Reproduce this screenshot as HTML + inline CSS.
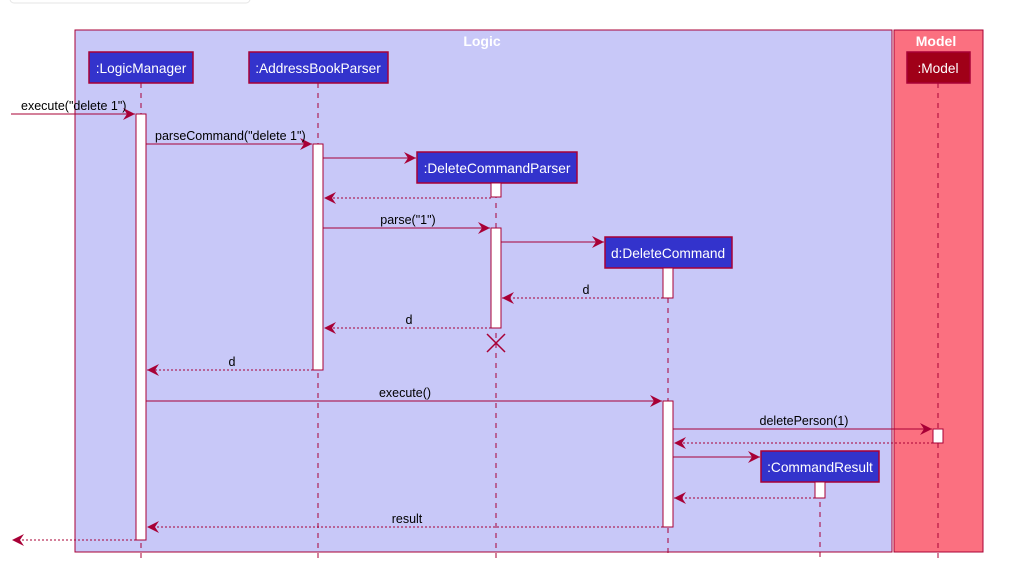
<!DOCTYPE html>
<html><head><meta charset="utf-8"><style>
html,body{margin:0;padding:0;background:#fff;}
svg{display:block;font-family:"Liberation Sans",sans-serif;}
</style></head><body>
<svg width="1021" height="579" viewBox="0 0 1021 579" xmlns="http://www.w3.org/2000/svg">
<defs>
<marker id="a" markerWidth="13" markerHeight="12" refX="12" refY="6" orient="auto" markerUnits="userSpaceOnUse">
<path d="M0,0 L12,6 L0,12 L4,6 Z" fill="#a80036"/>
</marker>
</defs>
<rect x="10" y="-6" width="240" height="9" rx="4" fill="#fff" stroke="#e6e6e6"/>
<rect x="75" y="30" width="817" height="522" fill="#c8c8f8" stroke="#a80036"/>
<rect x="894" y="30" width="89" height="522" fill="#fb7080" stroke="#a80036"/>
<text x="482" y="46" fill="#fff" font-weight="bold" font-size="14" text-anchor="middle">Logic</text>
<text x="936" y="46" fill="#fff" font-weight="bold" font-size="14" text-anchor="middle">Model</text>
<g stroke="#a80036" stroke-dasharray="5,5" stroke-width="1">
<line x1="141" y1="83" x2="141" y2="558"/>
<line x1="318" y1="83" x2="318" y2="558"/>
<line x1="496" y1="183" x2="496" y2="558"/>
<line x1="668" y1="268" x2="668" y2="558"/>
<line x1="820" y1="482" x2="820" y2="558"/>
<line x1="938" y1="83" x2="938" y2="558"/>
</g>
<g stroke="#a80036" stroke-width="1.5" fill="#3333cc">
<rect x="89" y="52" width="104" height="31"/>
<rect x="249" y="52" width="139" height="31"/>
<rect x="417" y="152" width="160" height="31"/>
<rect x="605" y="237" width="127" height="31"/>
<rect x="761" y="451" width="118" height="31"/>
<rect x="907" y="52" width="63" height="31" fill="#a00018"/>
</g>
<g fill="#fff" font-size="13.7" text-anchor="middle">
<text x="141" y="73">:LogicManager</text>
<text x="318" y="73">:AddressBookParser</text>
<text x="497" y="173">:DeleteCommandParser</text>
<text x="668" y="258">d:DeleteCommand</text>
<text x="820" y="472">:CommandResult</text>
<text x="938" y="73">:Model</text>
</g>
<g fill="#fff" stroke="#a80036" stroke-width="1">
<rect x="136" y="114" width="10" height="426"/>
<rect x="313" y="144" width="10" height="226"/>
<rect x="491" y="183" width="10" height="14"/>
<rect x="491" y="228" width="10" height="100"/>
<rect x="663" y="268" width="10" height="30"/>
<rect x="663" y="401" width="10" height="126"/>
<rect x="933" y="429" width="10" height="14"/>
<rect x="815" y="482" width="10" height="16"/>
</g>
<g stroke="#a80036" stroke-width="1" fill="none" marker-end="url(#a)">
<line x1="11" y1="114" x2="135" y2="114"/>
<line x1="146" y1="144" x2="312" y2="144"/>
<line x1="323" y1="158" x2="416" y2="158"/>
<line x1="491" y1="198" x2="324" y2="198" stroke-dasharray="2,2"/>
<line x1="323" y1="228" x2="490" y2="228"/>
<line x1="501" y1="242" x2="604" y2="242"/>
<line x1="663" y1="298" x2="502" y2="298" stroke-dasharray="2,2"/>
<line x1="491" y1="328" x2="324" y2="328" stroke-dasharray="2,2"/>
<line x1="313" y1="370" x2="147" y2="370" stroke-dasharray="2,2"/>
<line x1="146" y1="401" x2="662" y2="401"/>
<line x1="673" y1="429" x2="932" y2="429"/>
<line x1="933" y1="443" x2="674" y2="443" stroke-dasharray="2,2"/>
<line x1="673" y1="457" x2="760" y2="457"/>
<line x1="815" y1="498" x2="674" y2="498" stroke-dasharray="2,2"/>
<line x1="663" y1="527" x2="147" y2="527" stroke-dasharray="2,2"/>
<line x1="136" y1="540" x2="12" y2="540" stroke-dasharray="2,2"/>
</g>
<g stroke="#a80036" stroke-width="1.5">
<line x1="487" y1="334" x2="505" y2="352"/>
<line x1="505" y1="334" x2="487" y2="352"/>
</g>
<g fill="#000" font-size="12.5">
<text x="21" y="110">execute("delete 1")</text>
<text x="155" y="140">parseCommand("delete 1")</text>
<text x="408" y="224" text-anchor="middle">parse("1")</text>
<text x="586" y="294" text-anchor="middle">d</text>
<text x="409" y="324" text-anchor="middle">d</text>
<text x="232" y="366" text-anchor="middle">d</text>
<text x="405" y="397" text-anchor="middle">execute()</text>
<text x="804" y="425" text-anchor="middle">deletePerson(1)</text>
<text x="407" y="523" text-anchor="middle">result</text>
</g>
</svg>
</body></html>
